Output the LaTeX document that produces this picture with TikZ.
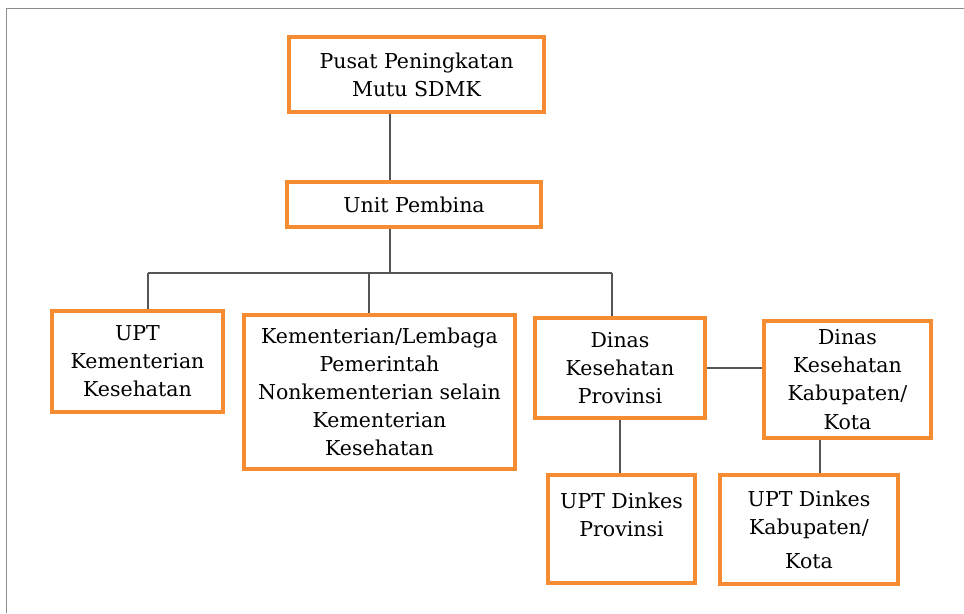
\documentclass[tikz,border=0pt]{standalone}
\usepackage{fontspec}
\setmainfont{DejaVu Serif}

\definecolor{boxorange}{RGB}{245,140,50}
\definecolor{linkgray}{RGB}{85,85,85}
\definecolor{framegray}{RGB}{140,140,140}

\tikzset{
	unitbox/.style={draw=boxorange, line width=3.6pt, fill=white,
		align=center, inner sep=2pt,
		font=\fontsize{17.5}{24}\selectfont},
	link/.style={draw=linkgray, line width=1.2pt}
}

\begin{document}
\begin{tikzpicture}[x=0.03cm, y=-0.03cm]
\useasboundingbox (0,0) rectangle (964,613);

% outer frame
\draw[framegray, line width=0.8pt] (6,613) -- (6,8) -- (964,8);

% Add the boxes
\node[unitbox,
		minimum width=7.64cm,
		minimum height=2.24cm] (pusat) at (416.5,74.5) {Pusat Peningkatan\\Mutu SDMK};

\node[unitbox,
		minimum width=7.61cm,
		minimum height=1.34cm] (unit) at (414,204.5) {Unit Pembina};

\node[unitbox,
		minimum width=5.12cm,
		minimum height=3.02cm] (uptkemkes) at (137.5,361.5) {UPT\\Kementerian\\Kesehatan};

\node[unitbox,
		minimum width=8.12cm,
		minimum height=4.61cm] (kl) at (379.5,392) {Kementerian/Lembaga\\Pemerintah\\Nonkementerian selain\\Kementerian\\Kesehatan};

\node[unitbox,
		minimum width=5.09cm,
		minimum height=2.99cm] (dinprov) at (620,368) {Dinas\\Kesehatan\\Provinsi};

\node[unitbox,
		minimum width=5.0cm,
		minimum height=3.5cm] (dinkab) at (847.5,379.5) {Dinas\\Kesehatan\\Kabupaten/\\Kota};

\node[unitbox,
		minimum width=4.4cm,
		minimum height=3.23cm] (uptprov) at (621.5,529) {UPT Dinkes\\Provinsi\\[0pt]\mbox{}};

\node[unitbox,
		minimum width=5.33cm,
		minimum height=3.26cm] (uptkab) at (809,529.5) {UPT Dinkes\\Kabupaten/\\[5pt]Kota};

% bus and stems
\coordinate (busL) at (148,273);
\coordinate (busM) at (390,273);
\coordinate (busK) at (369,273);
\coordinate (busR) at (612,273);
\coordinate (kabstem) at (820,0);

% Add the links
\draw[link] (pusat.south -| busM) -- (unit.north -| busM);
\draw[link] (unit.south -| busM) -- (busM);
\draw[link] (busL) -- (busR);
\draw[link] (busL) -- (busL |- uptkemkes.north);
\draw[link] (busK) -- (busK |- kl.north);
\draw[link] (busR) -- (busR |- dinprov.north);
\draw[link] (dinprov.east) -- (dinprov.east -| dinkab.west);
\draw[link] (dinprov.south) -- (dinprov.south |- uptprov.north);
\draw[link] (kabstem |- dinkab.south) -- (kabstem |- uptkab.north);
\end{tikzpicture}
\end{document}
